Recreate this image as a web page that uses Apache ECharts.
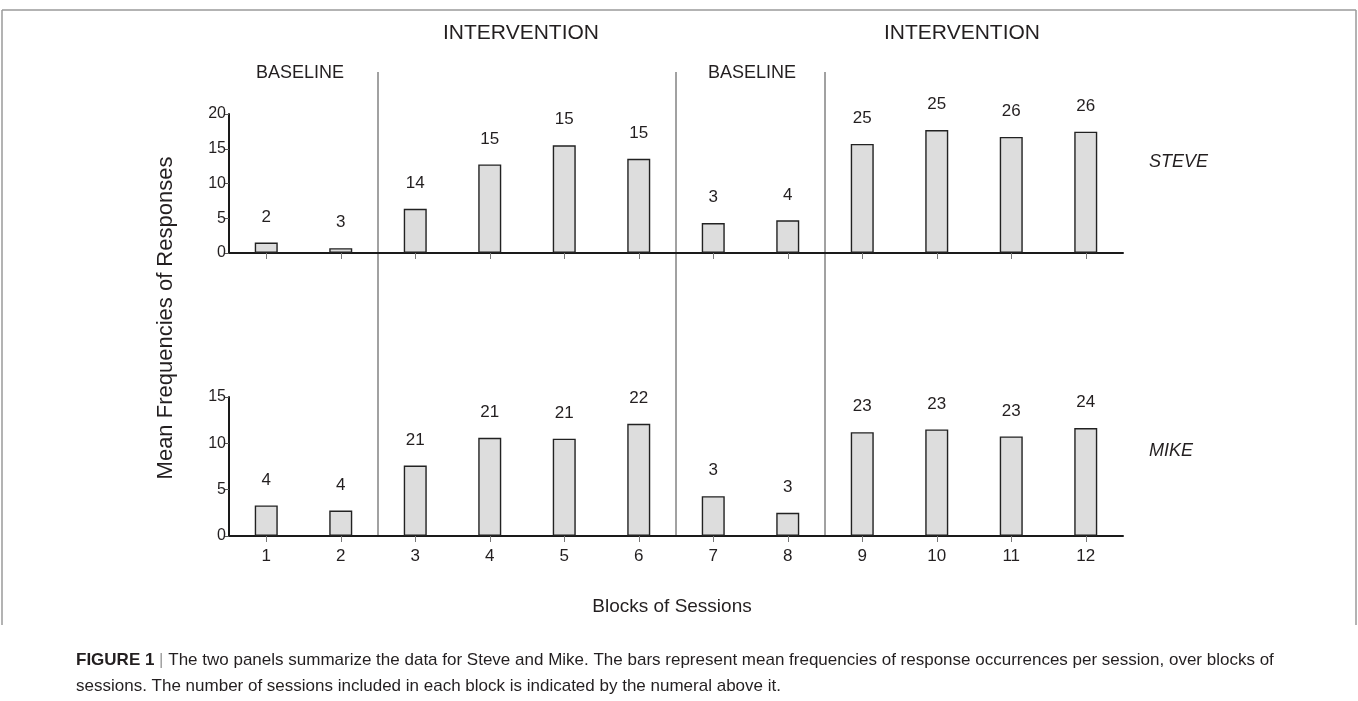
<!DOCTYPE html>
<html>
<head>
<meta charset="utf-8">
<script src="https://cdn.jsdelivr.net/npm/echarts@6/dist/echarts.min.js"></script>
<style>
html,body{margin:0;padding:0;background:#fff;}
#chart{width:1358px;height:701px;}
</style>
</head>
<body>
<div id="chart"></div>
<script>
var blocks = ['1','2','3','4','5','6','7','8','9','10','11','12'];
var steveMeans = [1.5, 0.7, 6.35, 12.75, 15.5, 13.55, 4.3, 4.7, 15.7, 17.7, 16.7, 17.45];
var steveSessions = [2, 3, 14, 15, 15, 15, 3, 4, 25, 25, 26, 26];
var mikeMeans = [3.3, 2.75, 7.6, 10.6, 10.5, 12.1, 4.3, 2.5, 11.2, 11.5, 10.75, 11.65];
var mikeSessions = [4, 4, 21, 21, 21, 22, 3, 3, 23, 23, 23, 24];
var steveTicks = [0, 5, 10, 15, 20];
var mikeTicks = [0, 5, 10, 15];
var phaseBreaks = [2, 6, 8]; // divider after these block counts
var phaseTitles = ['BASELINE', 'INTERVENTION', 'BASELINE', 'INTERVENTION'];
var yTitle = 'Mean Frequencies of Responses';
var xTitle = 'Blocks of Sessions';
var panelNames = ['STEVE', 'MIKE'];
var captionBold = 'FIGURE 1';
var captionLine1 = ' The two panels summarize the data for Steve and Mike. The bars represent mean frequencies of response occurrences per session, over blocks of';
var captionLine2 = 'sessions. The number of sessions included in each block is indicated by the numeral above it.';

var FONT = '"Liberation Sans", Arial, Helvetica, sans-serif';
var TXT = '#231f20';

var chart = echarts.init(document.getElementById('chart'), null, {renderer: 'canvas'});

function xAxisCfg(gridIndex, showLabels) {
  return {
    type: 'category', gridIndex: gridIndex, data: blocks, boundaryGap: true,
    axisLine: {show: true, lineStyle: {color: '#1a1a1a', width: 2}},
    axisTick: {show: true, alignWithLabel: true, length: 6, lineStyle: {color: '#777', width: 1}},
    axisLabel: {show: showLabels, color: TXT, fontSize: 17, fontFamily: FONT, margin: 12},
    splitLine: {show: false}
  };
}
function yAxisCfg(gridIndex, ticks) {
  return {
    type: 'value', gridIndex: gridIndex, min: ticks[0], max: ticks[ticks.length - 1], interval: ticks[1] - ticks[0],
    axisLine: {show: true, lineStyle: {color: '#1a1a1a', width: 2}},
    axisTick: {show: true, length: 5, lineStyle: {color: '#555', width: 1}},
    axisLabel: {color: TXT, fontSize: 16, fontFamily: FONT, margin: 3},
    splitLine: {show: false}
  };
}
function barSeries(idx, values, sessions) {
  return {
    type: 'bar', xAxisIndex: idx, yAxisIndex: idx, data: values, barWidth: 23,
    itemStyle: {color: '#dddddd', borderColor: '#222', borderWidth: 1.4},
    label: {
      show: true, position: 'top', distance: 17, color: TXT, fontSize: 17, fontFamily: FONT,
      formatter: function (p) { return String(sessions[p.dataIndex]); }
    },
    silent: true, animation: false
  };
}

var option = {
  backgroundColor: '#fff',
  animation: false,
  grid: [
    {left: 229, top: 114, width: 894, height: 139},
    {left: 229, top: 397, width: 894, height: 139}
  ],
  xAxis: [xAxisCfg(0, false), xAxisCfg(1, true)],
  yAxis: [yAxisCfg(0, steveTicks), yAxisCfg(1, mikeTicks)],
  series: [barSeries(0, steveMeans, steveSessions), barSeries(1, mikeMeans, mikeSessions)]
};
chart.setOption(option);

// Build annotations from axis positions
var g = [];
var yTopLine = 72;
var yBottom = chart.convertToPixel({yAxisIndex: 1}, 0);
phaseBreaks.forEach(function (b, i) {
  var x1 = chart.convertToPixel({xAxisIndex: 1}, blocks[b - 1]);
  var x2 = chart.convertToPixel({xAxisIndex: 1}, blocks[b]);
  var x = (x1 + x2) / 2;
  g.push({
    type: 'line', silent: true,
    shape: {x1: x, y1: yTopLine, x2: x, y2: yBottom},
    style: {stroke: i === 0 ? '#8a8a8a' : '#444', lineWidth: i === 0 ? 1.6 : 1}
  });
});
// phase titles
var titlePos = [[300, 73], [521, 33], [752, 73], [962, 33]];
phaseTitles.forEach(function (t, i) {
  var big = t === 'INTERVENTION';
  g.push({
    type: 'text', silent: true, x: titlePos[i][0], y: titlePos[i][1],
    style: {text: t, fill: TXT, font: (big ? '21px ' : '18px ') + FONT, align: 'center', verticalAlign: 'middle'}
  });
});
// panel names
var panelY = [162, 451];
panelNames.forEach(function (n, i) {
  g.push({
    type: 'text', silent: true, x: 1149, y: panelY[i],
    style: {text: n, fill: TXT, font: 'italic 18px ' + FONT, align: 'left', verticalAlign: 'middle'}
  });
});
// y-axis title
g.push({
  type: 'text', silent: true, x: 166, y: 318, rotation: Math.PI / 2,
  style: {text: yTitle, fill: TXT, font: '22px ' + FONT, align: 'center', verticalAlign: 'middle'}
});
// x-axis title
g.push({
  type: 'text', silent: true, x: 672, y: 607,
  style: {text: xTitle, fill: TXT, font: '19px ' + FONT, align: 'center', verticalAlign: 'middle'}
});
// frame
g.push({type: 'line', silent: true, shape: {x1: 2, y1: 10, x2: 1356, y2: 10}, style: {stroke: '#9a9a9a', lineWidth: 1.5}});
g.push({type: 'line', silent: true, shape: {x1: 2, y1: 10, x2: 2, y2: 625}, style: {stroke: '#9a9a9a', lineWidth: 1.5}});
g.push({type: 'line', silent: true, shape: {x1: 1356, y1: 10, x2: 1356, y2: 625}, style: {stroke: '#9a9a9a', lineWidth: 1.5}});
// caption
g.push({
  type: 'text', silent: true, x: 76, y: 660,
  style: {
    text: '{b|' + captionBold + '} {s||}' + captionLine1,
    fill: TXT, font: '17px ' + FONT, verticalAlign: 'middle',
    rich: {
      b: {fontWeight: 'bold', fontSize: 17, fontFamily: FONT, fill: TXT},
      s: {fontSize: 17, fontFamily: FONT, fill: '#999'}
    }
  }
});
g.push({
  type: 'text', silent: true, x: 76, y: 686,
  style: {text: captionLine2, fill: TXT, font: '17px ' + FONT, verticalAlign: 'middle'}
});
chart.setOption({graphic: {elements: g}});
</script>
</body>
</html>
